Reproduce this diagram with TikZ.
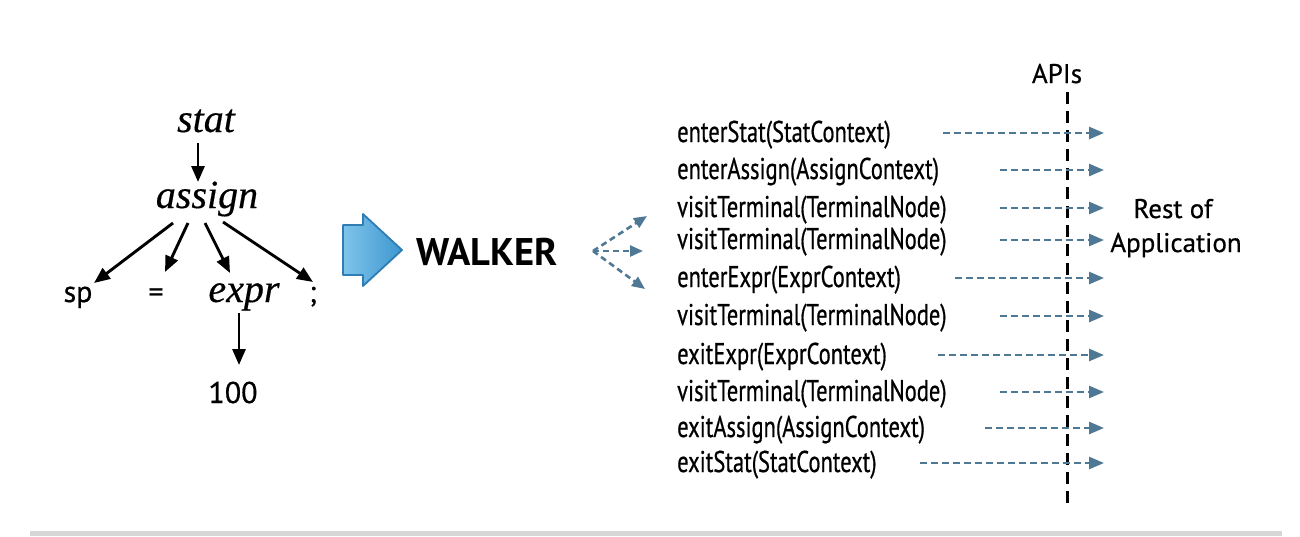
\documentclass[tikz,border=0pt]{standalone}
\usepackage{fontspec}
\usetikzlibrary{arrows.meta}
\newfontfamily\myr[FakeBold=0.6]{PT Sans}
\newfontfamily\myrb{PT Sans Bold}
\newfontfamily\myrc[FakeStretch=0.75,FakeBold=0.6]{PT Sans}
\newfontfamily\treeit[FakeBold=0.4]{Liberation Serif Italic}
\definecolor{dashblue}{HTML}{4E7893}
\definecolor{blockfillA}{HTML}{7FC4EA}
\definecolor{blockfillB}{HTML}{3D97D0}
\definecolor{blockedge}{HTML}{2F7DB2}
\begin{document}
\begin{tikzpicture}[x=1pt,y=-1pt,
  treeword/.style={font=\treeit\fontsize{40}{44}\selectfont, inner sep=0pt, anchor=base},
  treeleaf/.style={font=\myr\fontsize{30}{36}\selectfont, inner sep=0pt, anchor=base},
  treearrow/.style={line width=2.9pt, -{Triangle[length=16pt,width=13pt]}},
  method/.style={font=\myrc\fontsize{30}{34}\selectfont, inner sep=0pt, anchor=base west},
  apiarrow/.style={dashblue, line width=2.6pt, dash pattern=on 7pt off 4pt, -{Triangle[length=15pt,width=12pt]}},
  walkarrow/.style={dashblue, line width=2.6pt, dash pattern=on 6pt off 4pt, -{Triangle[length=13pt,width=11pt]}},
  label/.style={font=\myr\fontsize{27}{32}\selectfont, inner sep=0pt, anchor=base}
]
\useasboundingbox (0,0) rectangle (1300,536);
\fill[gray!32] (30,531) rectangle (1282,536);

% tree
\node[treeword] (stat) at (206,132) {stat};
\node[treeword] (assign) at (207,208) {assign};
\node[treeleaf] (sp) at (78,302) {sp};
\node[treeleaf] (eq) at (156,302) {=};
\node[treeword] (expr) at (244,302) {expr};
\node[treeleaf] (semi) at (313,302) {;};
\node[treeleaf] (hundred) at (233,403) {100};

\coordinate (s1) at (198,143); \coordinate (a0) at (198,182);
\coordinate (a1) at (173,223); \coordinate (e1) at (94,283);
\coordinate (a2) at (188,223); \coordinate (e2) at (165,272);
\coordinate (a3) at (205,223); \coordinate (e3) at (230,273);
\coordinate (a4) at (223,222); \coordinate (e4) at (313,282);
\coordinate (x1) at (239,313); \coordinate (x2) at (239,365);
\draw[treearrow] (s1) -- (a0);
\draw[treearrow] (a1) -- (e1);
\draw[treearrow] (a2) -- (e2);
\draw[treearrow] (a3) -- (e3);
\draw[treearrow] (a4) -- (e4);
\draw[treearrow] (x1) -- (x2);

% block arrow
\shade[left color=blockfillA, right color=blockfillB, draw=blockedge, line width=1.8pt, line join=round]
  (343,225) -- (363,225) -- (363,214) -- (402,250) -- (363,286) -- (363,275) -- (343,275) -- cycle;

\node[font=\myrb\fontsize{38.5}{44}\selectfont, inner sep=0pt, anchor=base] (walker) at (487,265) {WALKER};

\coordinate (w0) at (593,251);
\coordinate (w1) at (647,216);
\coordinate (w2) at (643,251);
\coordinate (w3) at (645,289);
\draw[walkarrow] (w0) -- (w1);
\draw[walkarrow] (w0) -- (w2);
\draw[walkarrow] (w0) -- (w3);

% API line
\node[label] (apis) at (1057,83) {APIs};
\coordinate (vtop) at (1067,92);
\coordinate (vbot) at (1067,507);
\draw[line width=3pt, dash pattern=on 12pt off 7pt] (vtop) -- (vbot);

\node[label] (rest) at (1173,218) {Rest of};
\node[label] (app) at (1176,252) {Application};

% methods
\foreach \name/\txt/\y/\xs in {
  m1/{enterStat(StatContext)}/133/943,
  m2/{enterAssign(AssignContext)}/170/1000,
  m3/{visitTerminal(TerminalNode)}/208/1000,
  m4/{visitTerminal(TerminalNode)}/240/1000,
  m5/{enterExpr(ExprContext)}/278/955,
  m6/{visitTerminal(TerminalNode)}/316/1000,
  m7/{exitExpr(ExprContext)}/355/938,
  m8/{visitTerminal(TerminalNode)}/392/1000,
  m9/{exitAssign(AssignContext)}/428/985,
  m10/{exitStat(StatContext)}/463/920}{
  \node[method] (\name) at (677,\y+9) {\txt};
  \coordinate (\name s) at (\xs,\y);
  \coordinate (\name e) at (1104,\y);
  \draw[apiarrow] (\name s) -- (\name e);
}
\end{tikzpicture}
\end{document}
